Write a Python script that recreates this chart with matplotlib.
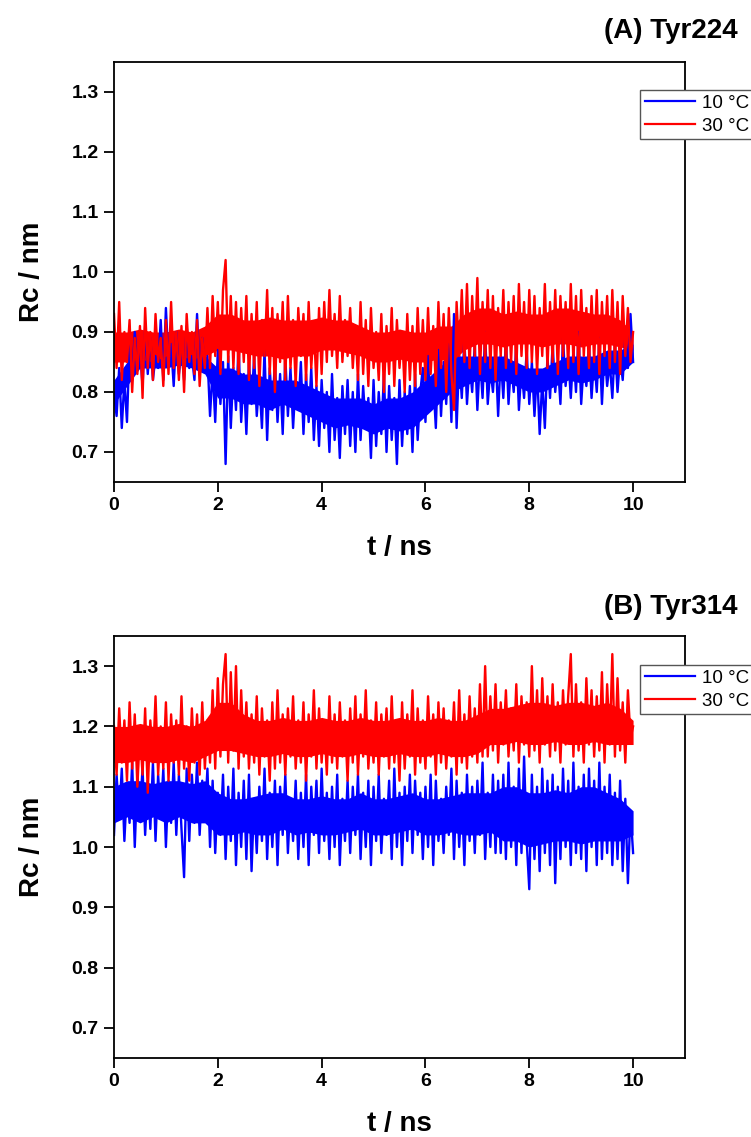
import numpy as np
import matplotlib
matplotlib.use("Agg")
import matplotlib.pyplot as plt

plt.rcParams['font.family'] = ['Liberation Sans', 'DejaVu Sans']

# sampling times (ns), one frame every 0.05 ns
t = np.linspace(0, 10, 201)
# coarse grid (every 0.25 ns) for the dense core of each trace
t_core = np.linspace(0, 10, 41)

# Tyr224, Rc (nm)
tyr224_10C = [
    0.80, 0.76, 0.84, 0.74, 0.82, 0.75,
    0.88, 0.82, 0.90, 0.84, 0.87, 0.81, 0.91, 0.83, 0.89, 0.82,
    0.86, 0.84, 0.92, 0.82, 0.94, 0.85, 0.88, 0.81, 0.90, 0.83,
    0.87, 0.82, 0.91, 0.84, 0.86, 0.82, 0.93, 0.83, 0.89, 0.84,
    0.86, 0.76, 0.84, 0.75, 0.87, 0.78, 0.85, 0.68,
    0.86, 0.74, 0.84, 0.77, 0.88, 0.75, 0.83, 0.73, 0.85, 0.78,
    0.86, 0.76, 0.82, 0.74, 0.87, 0.72, 0.84, 0.77, 0.85, 0.75,
    0.83, 0.73, 0.86, 0.76, 0.84, 0.74, 0.82, 0.77, 0.85, 0.73,
    0.83, 0.75, 0.84,
    0.72, 0.81, 0.71, 0.82, 0.74, 0.80, 0.70, 0.83, 0.72, 0.79,
    0.69, 0.81, 0.73, 0.82, 0.71, 0.80, 0.70, 0.83, 0.72, 0.81,
    0.74, 0.79, 0.69, 0.82, 0.71, 0.80, 0.73, 0.83, 0.70, 0.81,
    0.72, 0.79, 0.68, 0.82, 0.71, 0.80, 0.73, 0.81, 0.70, 0.83,
    0.72, 0.80,
    0.84, 0.75, 0.86, 0.77, 0.82, 0.74, 0.87, 0.76, 0.85, 0.78,
    0.88, 0.75, 0.93, 0.74,
    0.86, 0.79, 0.89, 0.78, 0.85, 0.80, 0.88, 0.77, 0.86, 0.79,
    0.90, 0.78, 0.84, 0.80, 0.87, 0.76, 0.86, 0.79, 0.89, 0.78,
    0.85, 0.80, 0.88, 0.77, 0.84, 0.79, 0.87, 0.78, 0.85, 0.76,
    0.84, 0.73, 0.82, 0.74,
    0.86, 0.79, 0.88, 0.80, 0.85, 0.78, 0.89, 0.81, 0.86, 0.79,
    0.87, 0.80, 0.90, 0.78, 0.85, 0.81, 0.88, 0.79, 0.86, 0.80,
    0.89, 0.78, 0.87, 0.81, 0.85, 0.79, 0.88, 0.80, 0.86, 0.82,
    0.89, 0.84, 0.93, 0.85,
]
tyr224_30C = [
    0.93, 0.84, 0.95, 0.82, 0.90, 0.85, 0.92, 0.80, 0.89, 0.83,
    0.91, 0.79, 0.94, 0.84, 0.90, 0.82, 0.93, 0.85, 0.89, 0.81,
    0.92, 0.83, 0.95, 0.84, 0.90, 0.82, 0.91, 0.80, 0.93, 0.85,
    0.90, 0.83, 0.92, 0.81, 0.89, 0.84,
    0.94, 0.84, 0.96, 0.86, 0.95, 0.83, 0.97, 1.02, 0.85, 0.96,
    0.84, 0.95,
    0.83, 0.94, 0.85, 0.96, 0.82, 0.93, 0.84, 0.95, 0.81, 0.92,
    0.86, 0.97, 0.83, 0.94, 0.80, 0.93, 0.85, 0.95, 0.82, 0.96,
    0.84, 0.92, 0.81, 0.94, 0.86, 0.93, 0.82, 0.95, 0.84, 0.91,
    0.81, 0.94, 0.83,
    0.95, 0.85, 0.97, 0.86, 0.93, 0.84, 0.96, 0.85, 0.92, 0.86,
    0.94, 0.84, 0.91, 0.82, 0.95, 0.83, 0.92, 0.81, 0.94, 0.84,
    0.90, 0.82, 0.93, 0.80, 0.91, 0.83, 0.94, 0.81, 0.92, 0.84,
    0.90, 0.80, 0.93, 0.82, 0.91, 0.81, 0.94, 0.83,
    0.92, 0.82, 0.94, 0.83, 0.91, 0.81, 0.95, 0.84, 0.93, 0.80,
    0.94, 0.83, 0.77, 0.95,
    0.86, 0.97, 0.85, 0.98, 0.84, 0.96, 0.86, 0.99, 0.83, 0.95,
    0.85, 0.97, 0.84, 0.96, 0.82, 0.94, 0.86, 0.97, 0.84, 0.95,
    0.85, 0.96, 0.83, 0.98, 0.86, 0.95, 0.84, 0.97, 0.85, 0.96,
    0.83, 0.94, 0.86, 0.98, 0.84, 0.95, 0.85, 0.97, 0.83, 0.96,
    0.86, 0.95, 0.84, 0.98, 0.85, 0.96, 0.83, 0.97, 0.86, 0.94,
    0.84, 0.96, 0.85, 0.97, 0.83, 0.95, 0.86, 0.96, 0.84, 0.97,
    0.85, 0.95, 0.83, 0.96, 0.86, 0.94, 0.85, 0.90,
]

# Tyr224, dense core of each trace (lower / upper edge, nm)
tyr224_10C_lo = [
    0.78, 0.81, 0.84, 0.84, 0.84, 0.845, 0.84, 0.83, 0.79, 0.79,
    0.78, 0.78, 0.77, 0.78, 0.77, 0.76, 0.75, 0.74, 0.745, 0.74,
    0.73, 0.74, 0.735, 0.74, 0.76, 0.78, 0.80, 0.81, 0.82, 0.815,
    0.82, 0.81, 0.80, 0.80, 0.81, 0.82, 0.815, 0.82, 0.83, 0.83,
    0.85,
]
tyr224_10C_hi = [
    0.82, 0.85, 0.87, 0.87, 0.87, 0.87, 0.87, 0.86, 0.84, 0.84,
    0.83, 0.83, 0.82, 0.82, 0.82, 0.81, 0.80, 0.79, 0.79, 0.79,
    0.78, 0.79, 0.79, 0.80, 0.82, 0.84, 0.86, 0.86, 0.86, 0.86,
    0.86, 0.85, 0.84, 0.84, 0.85, 0.86, 0.86, 0.86, 0.87, 0.87,
    0.88,
]
tyr224_30C_lo = [
    0.85, 0.85, 0.855, 0.85, 0.86, 0.86, 0.855, 0.86, 0.87, 0.87,
    0.865, 0.86, 0.86, 0.855, 0.86, 0.86, 0.87, 0.87, 0.865, 0.86,
    0.85, 0.85, 0.855, 0.85, 0.85, 0.855, 0.85, 0.87, 0.88, 0.88,
    0.875, 0.88, 0.88, 0.875, 0.88, 0.88, 0.875, 0.88, 0.88, 0.875,
    0.87,
]
tyr224_30C_hi = [
    0.90, 0.90, 0.905, 0.90, 0.90, 0.905, 0.90, 0.91, 0.93, 0.93,
    0.92, 0.92, 0.925, 0.92, 0.92, 0.92, 0.925, 0.92, 0.92, 0.91,
    0.90, 0.90, 0.905, 0.90, 0.90, 0.91, 0.91, 0.93, 0.94, 0.94,
    0.93, 0.935, 0.93, 0.93, 0.94, 0.94, 0.935, 0.93, 0.93, 0.92,
    0.90,
]

# Tyr314, Rc (nm)
tyr314_10C = [
    1.02, 1.12, 1.05, 1.13, 1.01, 1.10, 1.04, 1.14, 1.00, 1.12,
    1.06, 1.13, 1.02, 1.11, 1.03, 1.14, 1.01, 1.12, 1.05, 1.13,
    1.00, 1.11, 1.04, 1.14, 1.02, 1.12, 1.03, 0.95, 1.13, 1.01,
    1.12, 1.04, 1.14, 1.02, 1.11, 1.05, 1.13,
    1.00, 1.11, 0.99, 1.09, 1.02, 1.12, 0.98, 1.10, 1.01, 1.13,
    0.97, 1.09, 1.00, 1.11, 0.98, 1.12, 0.96, 1.08, 0.99, 1.10,
    1.01, 1.13, 0.98, 1.09, 1.00, 1.11, 0.97, 1.10, 1.02, 1.12,
    0.99, 1.08, 1.01, 1.11, 0.98, 1.09, 1.00, 1.12, 0.97, 1.10,
    1.02, 1.11, 0.99, 1.13, 1.01, 1.09, 0.98, 1.10, 1.00, 1.12,
    0.97, 1.08, 1.01, 1.11, 0.99, 1.10, 1.02, 1.12, 0.98, 1.09,
    1.00, 1.11, 0.97, 1.10, 1.01, 1.12, 0.99, 1.08, 1.02, 1.11,
    0.98, 1.13, 1.00, 1.09, 0.97, 1.10, 1.01, 1.12, 0.99, 1.11,
    1.02, 1.09, 0.98, 1.10, 1.00, 1.12, 0.97, 1.11, 1.01, 1.08,
    0.99, 1.10, 1.02, 1.13, 0.98, 1.11, 1.00, 1.09, 0.97, 1.12,
    1.01, 1.10, 0.99, 1.11, 1.02, 1.14, 0.98, 1.09, 1.00, 1.12,
    0.99, 1.11,
    0.99, 1.12, 0.98, 1.14, 1.00, 1.10, 0.97, 1.13, 0.99, 1.15,
    1.01, 0.93, 1.12, 0.98, 1.10, 0.96, 1.13, 0.99, 1.11, 0.97,
    1.12, 0.94, 1.10, 0.98, 1.13, 1.00, 1.11, 0.97, 1.14, 0.99,
    1.10, 0.98, 1.12, 0.96, 1.13, 1.00, 1.11, 0.97, 1.14, 0.98,
    1.10, 0.99, 1.12, 0.97, 1.09, 0.98, 1.11, 0.96, 1.08, 0.94,
    1.06, 0.99,
]
tyr314_30C = [
    1.20, 1.12, 1.23, 1.14, 1.21, 1.11, 1.24, 1.13, 1.22, 1.10,
    1.19, 1.12, 1.23, 1.09, 1.21, 1.14, 1.25, 1.12, 1.20, 1.13,
    1.24, 1.11, 1.22, 1.14, 1.21, 1.12, 1.25, 1.13, 1.20, 1.11,
    1.23, 1.14, 1.22, 1.12, 1.24, 1.13, 1.21,
    1.14, 1.26, 1.13, 1.28, 1.15, 1.27, 1.32, 1.14, 1.29, 1.16,
    1.30, 1.13, 1.26, 1.15,
    1.24, 1.13, 1.22, 1.14, 1.25, 1.12, 1.23, 1.15, 1.21, 1.11,
    1.24, 1.13, 1.26, 1.14, 1.22, 1.12, 1.23, 1.15, 1.25, 1.13,
    1.21, 1.14, 1.24, 1.11, 1.22, 1.15, 1.26, 1.13, 1.23, 1.14,
    1.21, 1.12, 1.25, 1.14, 1.22, 1.13, 1.24, 1.15, 1.21, 1.11,
    1.23, 1.14, 1.25, 1.12, 1.22, 1.15, 1.26, 1.13, 1.21, 1.14,
    1.24, 1.12, 1.22, 1.15, 1.23, 1.13, 1.25, 1.14, 1.21, 1.11,
    1.24, 1.13, 1.22, 1.15, 1.26, 1.12, 1.23, 1.14, 1.21, 1.13,
    1.25, 1.15, 1.22, 1.12, 1.24, 1.14, 1.23, 1.13, 1.21, 1.15,
    1.24, 1.12, 1.26, 1.14, 1.22, 1.13, 1.25, 1.15, 1.23, 1.14,
    1.27, 1.15,
    1.30, 1.15, 1.25, 1.16, 1.27, 1.14, 1.24, 1.17, 1.26, 1.15,
    1.23, 1.16, 1.27, 1.14, 1.25, 1.17, 1.24, 1.15, 1.30, 1.16,
    1.26, 1.14, 1.28, 1.17, 1.25, 1.15, 1.27, 1.16, 1.24, 1.14,
    1.26, 1.17, 1.25, 1.32, 1.15, 1.27, 1.16, 1.24, 1.14, 1.28,
    1.17, 1.26, 1.15, 1.25, 1.16, 1.29, 1.14, 1.27, 1.17, 1.32,
    1.15, 1.28, 1.16, 1.24, 1.14, 1.26, 1.18, 1.20,
]

# Tyr314, dense core of each trace (lower / upper edge, nm)
tyr314_10C_lo = [
    1.04, 1.05, 1.04, 1.05, 1.04, 1.05, 1.04, 1.04, 1.02, 1.02,
    1.025, 1.02, 1.02, 1.03, 1.02, 1.025, 1.02, 1.02, 1.025, 1.03,
    1.02, 1.02, 1.025, 1.03, 1.02, 1.02, 1.025, 1.02, 1.02, 1.025,
    1.01, 1.01, 1.00, 1.005, 1.01, 1.01, 1.005, 1.01, 1.01, 1.01,
    1.02,
]
tyr314_10C_hi = [
    1.10, 1.11, 1.11, 1.105, 1.11, 1.11, 1.105, 1.11, 1.09, 1.08,
    1.08, 1.085, 1.09, 1.09, 1.08, 1.08, 1.085, 1.08, 1.08, 1.09,
    1.08, 1.08, 1.085, 1.09, 1.08, 1.08, 1.085, 1.09, 1.09, 1.09,
    1.10, 1.10, 1.09, 1.09, 1.095, 1.09, 1.10, 1.10, 1.09, 1.08,
    1.06,
]
tyr314_30C_lo = [
    1.14, 1.14, 1.145, 1.14, 1.14, 1.145, 1.14, 1.15, 1.16, 1.16,
    1.155, 1.15, 1.15, 1.155, 1.15, 1.15, 1.155, 1.15, 1.15, 1.155,
    1.15, 1.15, 1.155, 1.15, 1.15, 1.155, 1.15, 1.15, 1.155, 1.17,
    1.17, 1.175, 1.17, 1.17, 1.175, 1.17, 1.17, 1.175, 1.17, 1.17,
    1.17,
]
tyr314_30C_hi = [
    1.20, 1.20, 1.205, 1.20, 1.20, 1.205, 1.20, 1.21, 1.24, 1.24,
    1.22, 1.21, 1.21, 1.215, 1.21, 1.21, 1.215, 1.21, 1.21, 1.215,
    1.21, 1.21, 1.215, 1.21, 1.21, 1.215, 1.21, 1.21, 1.22, 1.23,
    1.23, 1.235, 1.24, 1.24, 1.235, 1.24, 1.24, 1.235, 1.24, 1.23,
    1.21,
]

series_labels = ['10 \u00b0C', '30 \u00b0C']
series_colors = ['#0000ff', '#ff0000']
panel_titles = ['(A) Tyr224', '(B) Tyr314']
y_ticks = [0.7, 0.8, 0.9, 1.0, 1.1, 1.2, 1.3]
x_ticks = [0, 2, 4, 6, 8, 10]

W, H = 751, 1137
fig = plt.figure(figsize=(W / 100, H / 100), dpi=100)

# axes boxes in pixels: (left, top, right, bottom)
boxes = [(114, 62, 685, 482), (114, 636, 685, 1058)]
legend_tops = [90, 665]
title_y = [31, 607]
panels = [
    [(tyr224_10C, tyr224_10C_lo, tyr224_10C_hi), (tyr224_30C, tyr224_30C_lo, tyr224_30C_hi)],
    [(tyr314_10C, tyr314_10C_lo, tyr314_10C_hi), (tyr314_30C, tyr314_30C_lo, tyr314_30C_hi)],
]

for i, (l, top, r, b) in enumerate(boxes):
    ax = fig.add_axes([l / W, 1 - b / H, (r - l) / W, (b - top) / H])
    for (trace, lo, hi), color, label in zip(panels[i], series_colors, series_labels):
        ax.fill_between(t_core, lo, hi, color=color, lw=0)
        ax.plot(t, trace, color=color, lw=1.7, label=label)

    ax.set_xlim(0, 11)
    ax.set_ylim(0.65, 1.35)
    ax.set_xticks(x_ticks)
    ax.set_yticks(y_ticks)
    ax.set_yticklabels(['%.1f' % v for v in y_ticks])
    ax.tick_params(direction='out', length=7, width=1.3, labelsize=14, pad=4)
    for lab in ax.get_xticklabels() + ax.get_yticklabels():
        lab.set_fontweight('bold')
    for sp in ax.spines.values():
        sp.set_linewidth(1.3)

    ax.set_xlabel('t / ns', fontsize=20, fontweight='bold')
    ax.set_ylabel('Rc / nm', fontsize=20, fontweight='bold')
    ax.xaxis.set_label_coords(0.5, -(535 - 482) / (b - top))
    ax.yaxis.set_label_coords(-(114 - 45) / (r - l), 0.5)

    fig.text(738 / W, 1 - title_y[i] / H, panel_titles[i], ha='right', va='center',
             fontsize=20, fontweight='bold')

    leg = ax.legend(loc='upper left', bbox_to_anchor=(640 / W, 1 - legend_tops[i] / H),
                    bbox_transform=fig.transFigure, fontsize=13.5, frameon=True,
                    fancybox=False, framealpha=1, edgecolor='#555555',
                    borderaxespad=0, borderpad=0.25, handlelength=2.7,
                    handletextpad=0.35, labelspacing=0.3)
    leg.get_frame().set_linewidth(1.0)
    for h in leg.get_lines():
        h.set_linewidth(1.6)

fig.savefig('out.png', dpi=100)
